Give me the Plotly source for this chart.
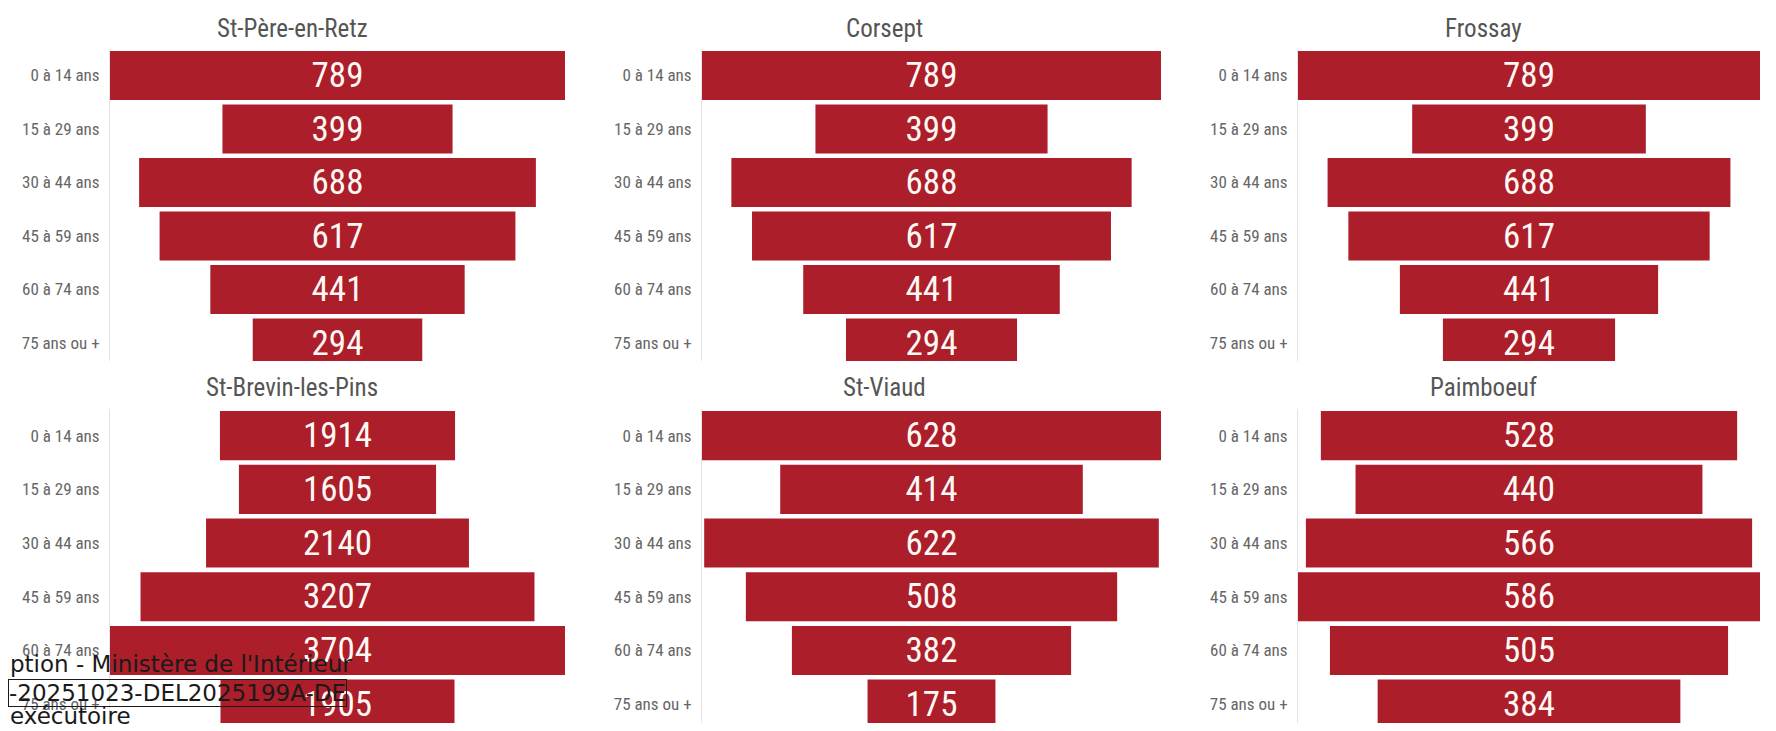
import plotly.graph_objects as go

# age groups shared by every commune
ages = ["0 à 14 ans", "15 à 29 ans", "30 à 44 ans", "45 à 59 ans", "60 à 74 ans", "75 ans ou +"]

st_pere = [789, 399, 688, 617, 441, 294]
corsept = [789, 399, 688, 617, 441, 294]
frossay = [789, 399, 688, 617, 441, 294]
st_brevin = [1914, 1605, 2140, 3207, 3704, 1905]
st_viaud = [628, 414, 622, 508, 382, 175]
paimboeuf = [528, 440, 566, 586, 505, 384]

communes = ["St-Père-en-Retz", "Corsept", "Frossay", "St-Brevin-les-Pins", "St-Viaud", "Paimboeuf"]
series = [st_pere, corsept, frossay, st_brevin, st_viaud, paimboeuf]

# the page body keeps its 8px margin, so the figure is sized to fit the window
OFF = 8
W, H = 1776 - OFF, 731 - OFF
RED = "#ab1e2a"
NARROW = "Liberation Sans Narrow, Roboto Condensed, Roboto, sans-serif"


def px(x):
    return (x - OFF) / W


def py(y):
    return 1 - (y - OFF) / H


# panel geometry in screen pixels: bar area left/right, title centre
cols = [(110, 565, 292), (702, 1161, 884), (1298, 1760, 1483)]
rows = [(48.75, 361, 5.336, 28), (408.8, 723, 5.351, 387)]

fig = go.Figure()
layout = dict(width=W, height=H, margin=dict(l=0, r=0, t=0, b=0),
              paper_bgcolor="white", plot_bgcolor="white", showlegend=False)
annotations = []

for i, (name, vals) in enumerate(zip(communes, series)):
    r, c = divmod(i, 3)
    x0, x1, tx = cols[c]
    top, bot, ybot, ty = rows[r]
    n = "" if i == 0 else str(i + 1)
    fig.add_trace(go.Funnel(
        x=vals, y=ages, xaxis="x" + n, yaxis="y" + n,
        textinfo="value", textposition="inside", constraintext="none",
        textfont=dict(family=NARROW, size=35, color="#fff8f4"),
        marker=dict(color=RED, line=dict(width=0)),
        connector=dict(visible=False), hoverinfo="x+y"))
    m = max(vals) / 2
    layout["xaxis" + n] = dict(domain=[px(x0), px(x1)], range=[-m, m], visible=False,
                               anchor="y" + n, fixedrange=True)
    layout["yaxis" + n] = dict(domain=[py(bot), py(top)], range=[ybot, -0.5],
                               anchor="x" + n, showline=True, linecolor="#e4e4e4", linewidth=1,
                               showgrid=False, ticks="", ticklabelstandoff=6,
                               tickfont=dict(family=NARROW, size=17, color="#666"))
    annotations.append(dict(text=name, x=px(tx), y=py(ty), xref="paper", yref="paper",
                            xanchor="center", yanchor="middle", showarrow=False,
                            font=dict(family=NARROW, size=25, color="#555")))

# receipt stamp overlaid on the bottom-left corner
stamp = dict(family="DejaVu Sans, Liberation Sans, sans-serif", size=23, color="#1a1a1a")
annotations.append(dict(text="ption - Ministère de l'Intérieur", x=0, y=py(664),
                        xref="paper", yref="paper", xanchor="left", yanchor="middle",
                        showarrow=False, font=stamp))
annotations.append(dict(text="-20251023-DEL2025199A-DE", x=0, y=py(693),
                        xref="paper", yref="paper", xanchor="left", yanchor="middle",
                        showarrow=False, font=stamp, bordercolor="#1a1a1a", borderwidth=1,
                        borderpad=0, bgcolor="rgba(0,0,0,0)"))
annotations.append(dict(text="exécutoire", x=0, y=py(716),
                        xref="paper", yref="paper", xanchor="left", yanchor="middle",
                        showarrow=False, font=stamp))

layout["annotations"] = annotations
layout["funnelgap"] = 0.085
fig.update_layout(**layout)

fig.write_html("out.html")
